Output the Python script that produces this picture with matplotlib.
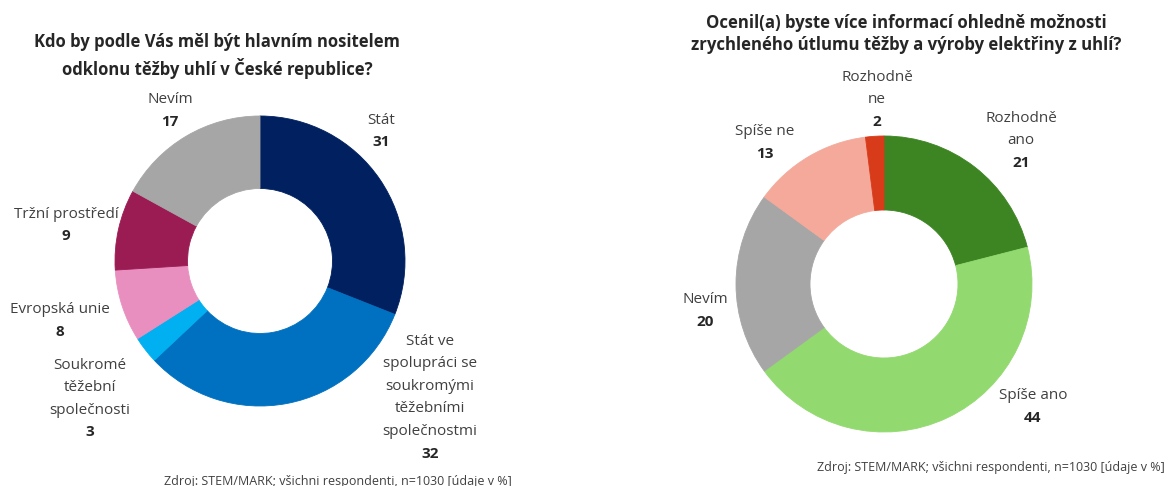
import numpy as np
from matplotlib import pyplot as plt

plt.rcParams['font.family'] = ['Open Sans', 'DejaVu Sans']

# left chart data
left_title = 'Kdo by podle Vás měl být hlavním nositelem\nodklonu těžby uhlí v České republice?'
left_labels = ['Stát', 'Stát ve\nspolupráci se\nsoukromými\ntěžebními\nspolečnostmi',
               'Soukromé\ntěžební\nspolečnosti', 'Evropská unie', 'Tržní prostředí', 'Nevím']
left_values = [31, 32, 3, 8, 9, 17]
left_colors = ['#002060', '#0070C0', '#00B0F0', '#E98FBF', '#9B1B53', '#A6A6A6']

# right chart data
right_title = 'Ocenil(a) byste více informací ohledně možnosti\nzrychleného útlumu těžby a výroby elektřiny z uhlí?'
right_labels = ['Rozhodně\nano', 'Spíše ano', 'Nevím', 'Spíše ne', 'Rozhodně\nne']
right_values = [21, 44, 20, 13, 2]
right_colors = ['#3D8423', '#92D96F', '#A6A6A6', '#F4A99A', '#D83B1A']

source = 'Zdroj: STEM/MARK; všichni respondenti, n=1030 [údaje v %]'

W, H = 1168, 486
fig = plt.figure(figsize=(W / 100, H / 100), dpi=100)
ax = fig.add_axes([0, 0, 1, 1])

txt = '#404040'


def donut(cx, cy, r, values, colors):
    wedges, _ = ax.pie(values, colors=colors, startangle=90, counterclock=False,
                       center=(cx, H - cy), radius=r,
                       wedgeprops=dict(width=r * 0.5, linewidth=0.6))
    for w in wedges:
        w.set_edgecolor(w.get_facecolor())


def label(x, y_top, name, value, ha='center'):
    n = name.count('\n') + 1
    ax.text(x, H - y_top, name, ha=ha, va='top', fontsize=11, color=txt,
            linespacing=1.68)
    ax.text(x, H - (y_top + n * 22.5), str(value), ha=ha, va='top',
            fontsize=11, fontweight='bold', color='#262626')


donut(260, 261, 145, left_values, left_colors)
donut(884, 284, 148, right_values, right_colors)

ax.set_xlim(0, W)
ax.set_ylim(0, H)
ax.set_aspect('equal')
ax.axis('off')

# label positions (top of first line, in px from the top)
left_pos = [(381, 113), (430, 334), (90, 358), (60, 302), (66, 207), (170, 92)]
for (x, y), name, v in zip(left_pos, left_labels, left_values):
    label(x, y, name, v)

right_pos = [(1021, 111), (1033, 388), (705, 292), (765, 124), (877, 70)]
for (x, y), name, v in zip(right_pos, right_labels, right_values):
    label(x, y, name, v)

ax.text(217, H - 56, left_title, ha='center', va='center', fontsize=12,
        fontweight='bold', color='#262626', linespacing=1.4)
ax.text(906, H - 34, right_title, ha='center', va='center', fontsize=12.1,
        fontweight='bold', color='#262626', linespacing=1.35)

ax.text(338, H - 481, source, ha='center', va='center', fontsize=9, color=txt)
ax.text(1165, H - 467, source, ha='right', va='center', fontsize=9, color=txt)

fig.savefig('out.png', dpi=100)
